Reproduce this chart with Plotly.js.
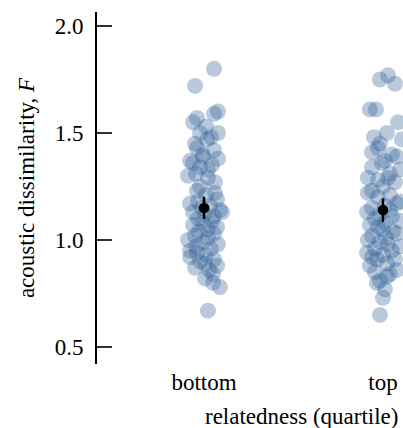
<!DOCTYPE html>
<html>
<head>
<meta charset="utf-8">
<script src="https://cdn.plot.ly/plotly-3.0.1.min.js"></script>
<style>html,body{margin:0;padding:0;background:#fff;overflow:hidden}</style>
</head>
<body>
<div id="chart"></div>
<script>
const categories = ['bottom', 'top'];

const bottomValues = [1.80,1.72,1.60,1.59,1.57,1.55,1.53,1.50,1.50,1.48,1.47,1.45,1.43,1.42,1.40,1.39,1.38,1.37,1.36,1.35,
  1.34,1.33,1.31,1.30,1.29,1.27,1.25,1.23,1.22,1.21,1.19,1.18,1.17,1.16,1.15,1.14,1.13,1.13,1.12,1.11,
  1.10,1.09,1.08,1.07,1.06,1.05,1.04,1.03,1.02,1.01,1.00,0.99,0.98,0.97,0.96,0.95,0.94,0.93,0.92,0.91,
  0.90,0.89,0.88,0.87,0.86,0.84,0.82,0.80,0.78,0.67];
const bottomJitter = [0.056,-0.050,0.078,0.056,-0.039,-0.061,0.011,0.078,-0.022,0.039,0.017,-0.050,-0.039,0.056,-0.006,-0.006,0.078,-0.078,-0.061,0.045,
  -0.022,0.022,-0.045,-0.089,0.022,0.061,-0.022,-0.039,0.061,0.011,0.073,-0.034,-0.078,0.034,-0.011,0.089,-0.061,0.101,0.006,0.056,
  -0.034,0.045,-0.006,-0.061,0.073,0.022,-0.028,0.056,-0.050,0.022,-0.089,-0.006,0.078,-0.045,0.039,-0.078,-0.039,0.011,-0.078,0.056,
  -0.022,0.006,0.073,-0.050,0.028,0.050,0.006,0.050,0.089,0.022];

const topValues = [1.77,1.75,1.73,1.61,1.61,1.55,1.50,1.48,1.47,1.45,1.43,1.41,1.40,1.39,1.37,1.36,1.34,1.33,1.31,1.29,
  1.29,1.28,1.27,1.25,1.23,1.22,1.21,1.20,1.18,1.17,1.16,1.15,1.14,1.13,1.12,1.11,1.10,1.09,1.08,1.07,
  1.06,1.05,1.04,1.03,1.02,1.01,1.00,0.99,0.98,0.97,0.96,0.95,0.94,0.93,0.92,0.91,0.91,0.89,0.88,0.86,
  0.85,0.84,0.83,0.81,0.80,0.77,0.73,0.65];
const topJitter = [0.028,-0.017,0.067,-0.073,-0.039,0.084,0.022,-0.050,0.106,-0.017,-0.028,-0.061,0.050,0.078,0.011,-0.006,-0.061,0.095,0.039,0.028,
  -0.084,-0.028,0.067,0.000,-0.061,-0.084,0.039,-0.028,0.095,0.078,0.011,-0.061,0.039,-0.089,-0.017,0.050,-0.045,0.095,0.011,-0.073,
  -0.028,0.000,0.056,0.078,-0.061,0.017,-0.084,-0.017,0.028,0.095,-0.045,0.050,-0.089,0.000,-0.061,-0.034,0.067,0.022,-0.073,0.078,
  -0.045,0.039,0.022,-0.017,-0.034,0.011,0.000,-0.017];

const means = [1.15, 1.14];
const sems = [0.052, 0.055];

const font = 'Liberation Serif, Times New Roman, serif';

const pointStyle = {size: 16, color: 'rgb(45,95,148)', opacity: 0.33, line: {width: 0}};

const traces = [
  {type: 'scatter', mode: 'markers', x: bottomJitter.map(j => 0 + j), y: bottomValues, marker: pointStyle, hoverinfo: 'skip', cliponaxis: true},
  {type: 'scatter', mode: 'markers', x: topJitter.map(j => 1 + j), y: topValues, marker: pointStyle, hoverinfo: 'skip', cliponaxis: true},
  {type: 'scatter', mode: 'markers', x: [0, 1], y: means,
   marker: {size: 10.5, color: 'black'},
   error_y: {type: 'data', array: sems, visible: true, color: 'black', thickness: 2.5, width: 0}}
];

const layout = {
  width: 403, height: 428,
  margin: {l: 97, r: 0, t: 12, b: 64},
  paper_bgcolor: 'white', plot_bgcolor: 'white',
  showlegend: false,
  font: {family: font, size: 23, color: 'black'},
  xaxis: {
    range: [-0.598, 1.112], showline: false, zeroline: false, showgrid: false,
    ticks: '', tickvals: [0, 1], ticktext: categories,
    ticklabelstandoff: 2,
    tickfont: {family: font, size: 23, color: 'black'}
  },
  yaxis: {
    range: [0.4206, 2.0654], showline: true, linecolor: 'black', linewidth: 2,
    zeroline: false, showgrid: false,
    ticks: 'inside', ticklen: 15, tickwidth: 2, tickcolor: '#333',
    tickvals: [0.5, 1.0, 1.5, 2.0], ticktext: ['0.5', '1.0', '1.5', '2.0'],
    ticklabelstandoff: 7,
    tickfont: {family: font, size: 23, color: 'black'},
    title: {text: 'acoustic dissimilarity, <i>F</i>', font: {family: font, size: 23, color: 'black'}, standoff: 14}
  },
  annotations: [{
    text: 'relatedness (quartile)', xref: 'x', yref: 'paper', x: 0.547, y: -0.15,
    xanchor: 'center', yanchor: 'middle', showarrow: false,
    font: {family: font, size: 23, color: 'black'}
  }]
};

Plotly.newPlot('chart', traces, layout, {displayModeBar: false, staticPlot: true});
</script>
</body>
</html>
